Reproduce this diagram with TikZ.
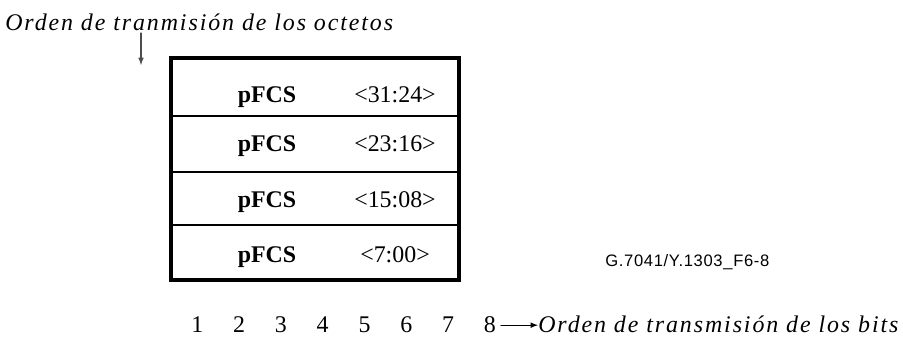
\documentclass[tikz,border=0pt]{standalone}
\usepackage{fontspec}
\setmainfont{Liberation Serif}
\newfontfamily\spacedit[LetterSpace=8]{Liberation Serif}
\newfontfamily\figsans[LetterSpace=4]{Liberation Sans}
\usetikzlibrary{arrows}

\tikzset{
  fieldtext/.style={font=\fontsize{17}{19}\selectfont\bfseries, anchor=base},
  rangetext/.style={font=\fontsize{17}{19}\selectfont, anchor=base},
  bitno/.style={font=\fontsize{17}{20}\selectfont, anchor=base},
  caption/.style={font=\fontsize{17}{20}\selectfont\spacedit\itshape, anchor=base west, inner sep=0pt},
  figid/.style={font=\fontsize{11.8}{13}\selectfont\figsans, anchor=base west, inner sep=0pt},
}

\begin{document}
\begin{tikzpicture}[x=0.25mm, y=-0.25mm, line cap=round, >=latex]
  \useasboundingbox (0,0) rectangle (903,338);
  % octet order
  \node[caption] (octord) at (5,31) {Orden de tranmisión de los octetos};
  \coordinate (octtop) at (141,33);
  \coordinate (octbot) at (141,65);
  \draw[->, black!70, line width=0.8pt] (octtop) -- (octbot);

  % frame
  \draw[line width=2.8pt, line cap=butt] (171,58) rectangle (459,280);
  \foreach \y in {116,172,225}
    \draw[line width=1.8pt, line cap=butt] (171,\y) -- (459,\y);

  \foreach \k/\y/\rng in {1/103/{<31:24>}, 2/152/{<23:16>}, 3/208/{<15:08>}, 4/263/{<7:00>}} {
    \node[fieldtext] (pfcs\k) at (267,\y) {pFCS};
    \node[rangetext] (rng\k) at (395,\y) {\rng};
  }

  \node[figid] (figno) at (605,267) {G.7041/Y.1303\_F6-8};

  % bit order
  \foreach \i in {1,...,8}
    \node[bitno] (bit\i) at ({155.5+41.8*\i},333) {\i};
  \node[caption] (bitord) at (538,333) {Orden de transmisión de los bits};
  \draw[->, line width=0.8pt] (bit8.east) -- (bit8.east -| bitord.west);
\end{tikzpicture}
\end{document}
